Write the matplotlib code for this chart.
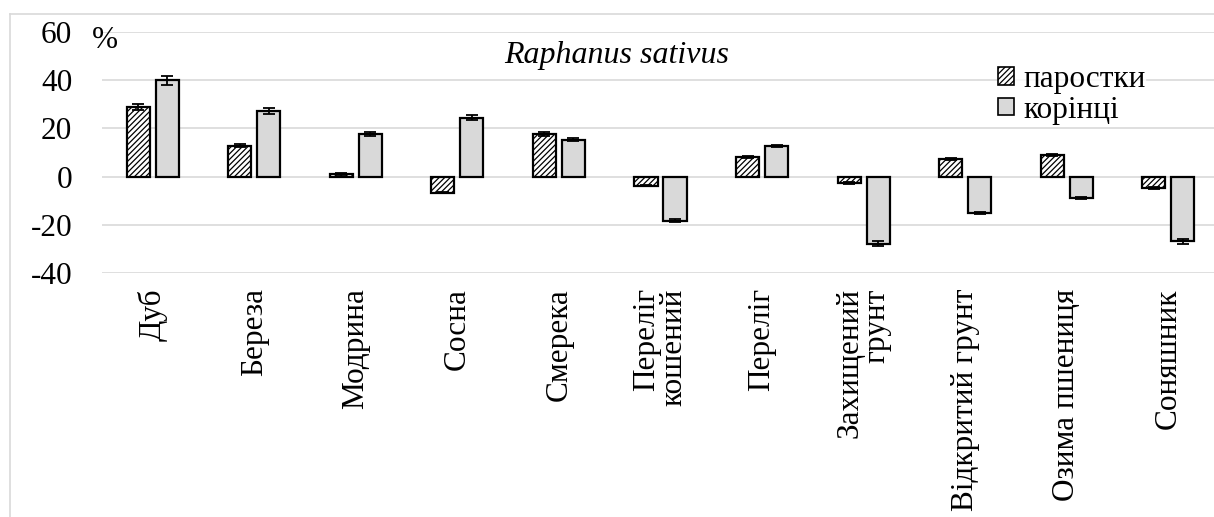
import matplotlib
matplotlib.use("Agg")
import matplotlib.pyplot as plt
import numpy as np
from matplotlib.patches import Patch

plt.rcParams["font.family"] = ["Liberation Serif", "DejaVu Serif"]
plt.rcParams["hatch.color"] = "#505050"
plt.rcParams["hatch.linewidth"] = 0.9

# ---- data ----
categories = ["Дуб", "Береза", "Модрина", "Сосна", "Смерека", "Переліг\nкошений",
              "Переліг", "Захищений\nгрунт", "Відкритий грунт", "Озима пшениця", "Соняшник"]
shoots = [28.9, 12.8, 1.1, -6.6, 17.6, -3.7, 8.3, -2.7, 7.2, 8.8, -4.8]
shoots_err = [1.3, 0.6, 0.3, 0.4, 0.8, 0.3, 0.4, 0.3, 0.4, 0.4, 0.3]
roots = [40.0, 27.3, 17.5, 24.5, 15.3, -18.3, 12.7, -27.8, -15.1, -8.7, -26.9]
roots_err = [1.8, 1.2, 0.8, 1.2, 0.6, 0.7, 0.5, 1.2, 0.5, 0.4, 1.2]
y_ticks = [-40, -20, 0, 20, 40, 60]

W, H = 1214, 517
FS = 22.5
fig = plt.figure(figsize=(W / 100, H / 100), dpi=100)
ax = fig.add_axes([102 / W, 1 - 273 / H, 1117 / W, (273 - 32) / H])

x = np.arange(len(categories))
bw = 0.227
off = 0.143
ax.bar(x - off, shoots, bw, color="white", edgecolor="black", linewidth=1.6,
       hatch="//////", zorder=3)
ax.bar(x + off, roots, bw, color="#d9d9d9", edgecolor="black", linewidth=1.6, zorder=3)
ax.errorbar(x - off, shoots, yerr=shoots_err, fmt="none", ecolor="black",
            elinewidth=1.3, capsize=4, capthick=1.3, zorder=4)
ax.errorbar(x + off, roots, yerr=roots_err, fmt="none", ecolor="black",
            elinewidth=1.3, capsize=4, capthick=1.3, zorder=4)

ax.set_xlim(-0.5, len(categories) - 0.5)
ax.set_ylim(-40, 60)
ax.set_yticks(y_ticks)
ax.set_yticklabels([str(v) for v in y_ticks], fontsize=FS)
ax.grid(axis="y", color="#d9d9d9", linewidth=1.2, zorder=0)
ax.tick_params(axis="y", length=0, pad=21.5)
ax.tick_params(axis="x", length=0, pad=0)
for s in ax.spines.values():
    s.set_visible(False)

ax.set_xticks(x)
ax.set_xticklabels([])
for xi, lab in zip(x, categories):
    ax.annotate(lab, xy=(xi, 0), xycoords=("data", "axes fraction"),
                xytext=(0, -11), textcoords="offset points",
                rotation=90, ha="center", va="top", multialignment="right",
                fontsize=FS, linespacing=0.9)

ax.text(-10 / 1117, 1.0 + 6 / 241, "%", transform=ax.transAxes, fontsize=FS,
        ha="left", va="top")
fig.text(617 / W, 1 - 55 / H, "Raphanus sativus", fontsize=23, style="italic",
         ha="center", va="center")

handles = [Patch(facecolor="white", edgecolor="black", hatch="//////", linewidth=1.2),
           Patch(facecolor="#d9d9d9", edgecolor="black", linewidth=1.2)]
leg = ax.legend(handles, ["паростки", "корінці"], loc="upper left",
                bbox_to_anchor=(998 / W, 1 - 65 / H), bbox_transform=fig.transFigure,
                frameon=True, fancybox=False, fontsize=FS, handlelength=0.5,
                handleheight=0.5, handletextpad=0.3, labelspacing=0.05,
                borderpad=0.0, borderaxespad=0)
leg.get_frame().set_edgecolor("white")
leg.get_frame().set_facecolor("white")
leg.set_zorder(5)

# chart area border
fig.add_artist(plt.Line2D([10 / W, 10 / W], [0, 1 - 14 / H], color="#d9d9d9",
                          linewidth=1.2, transform=fig.transFigure))
fig.add_artist(plt.Line2D([10 / W, 1], [1 - 14 / H, 1 - 14 / H], color="#d9d9d9",
                          linewidth=1.2, transform=fig.transFigure))

fig.savefig("out.png", dpi=100)
